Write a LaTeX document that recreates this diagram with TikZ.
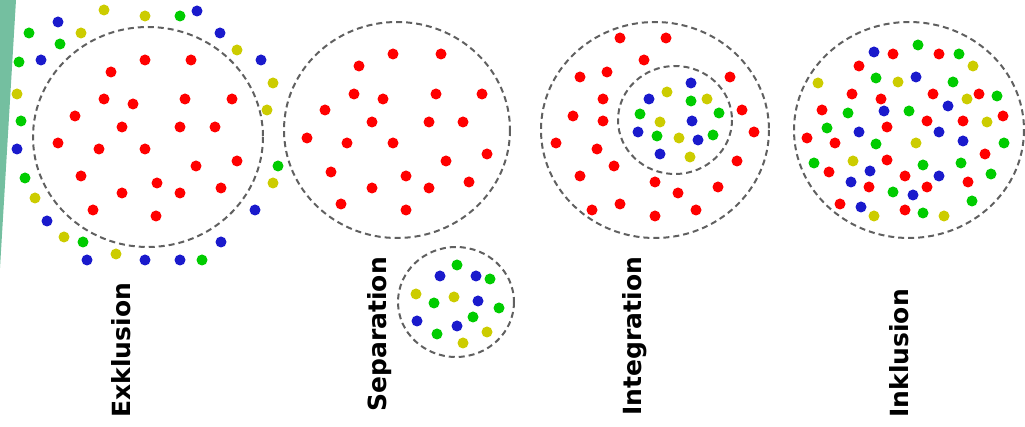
\documentclass[tikz,border=0pt]{standalone}
\usepackage{fontspec}
\setsansfont{DejaVu Sans}
\definecolor{dotred}{HTML}{FF0000}
\definecolor{dotgreen}{HTML}{00CC00}
\definecolor{dotblue}{HTML}{1A1ACC}
\definecolor{dotyellow}{HTML}{CCCC00}
\definecolor{ringgray}{HTML}{606060}
\definecolor{bandteal}{HTML}{74BFA0}

\begin{document}
\begin{tikzpicture}[x=0.5pt,y=-0.5pt,
 ring/.style={draw=ringgray,line width=1pt,dash pattern=on 3pt off 2pt},
 lbl/.style={font=\sffamily\bfseries\fontsize{12.5}{15}\selectfont,rotate=90,anchor=base west,inner sep=0pt}]
\useasboundingbox (0,0) rectangle (1025,427);
\fill[bandteal] (0,0) -- (16,0) -- (0,268) -- cycle;
% Exklusion
\draw[ring] (148,137) ellipse [x radius=115,y radius=110];
\foreach \p in {(145,60),(191,60),(111,72),(104,99),(133,104),(185,99),(232,99),(75,116),(122,127),(180,127),(215,127),(58,143),(99,149),(145,149),(237,161),(196,166),(81,176),(157,183),(221,188),(122,193),(180,193),(93,210),(156,216)}
  \fill[dotred] \p circle [radius=5.5];
\foreach \p in {(104,10),(145,16),(81,33),(237,50),(273,83),(17,94),(267,110),(273,183),(35,198),(64,237),(116,254)}
  \fill[dotyellow] \p circle [radius=5.5];
\foreach \p in {(180,16),(29,33),(60,44),(19,62),(21,121),(278,166),(25,178),(83,242),(202,260)}
  \fill[dotgreen] \p circle [radius=5.5];
\foreach \p in {(197,11),(58,22),(220,33),(41,60),(261,60),(17,149),(255,210),(47,221),(221,242),(87,260),(145,260),(180,260)}
  \fill[dotblue] \p circle [radius=5.5];
% Separation
\draw[ring] (397,130) ellipse [x radius=113,y radius=108];
\foreach \p in {(393,54),(441,54),(359,66),(354,94),(383,99),(436,94),(482,94),(325,110),(372,122),(429,122),(463,122),(307,138),(347,143),(393,143),(487,154),(446,161),(331,172),(406,176),(469,182),(372,188),(429,188),(341,204),(406,210)}
  \fill[dotred] \p circle [radius=5.5];
\draw[ring] (456,302) ellipse [x radius=58,y radius=55];
\foreach \p in {(457,265),(490,279),(434,303),(499,308),(473,317),(437,334)}
  \fill[dotgreen] \p circle [radius=5.5];
\foreach \p in {(440,276),(476,276),(478,301),(417,321),(457,326)}
  \fill[dotblue] \p circle [radius=5.5];
\foreach \p in {(416,294),(454,297),(487,332),(463,343)}
  \fill[dotyellow] \p circle [radius=5.5];
% Integration
\draw[ring] (655,130) ellipse [x radius=114,y radius=108];
\draw[ring] (675,120) ellipse [x radius=57,y radius=54];
\foreach \p in {(620,38),(666,38),(644,60),(580,77),(607,72),(730,77),(603,99),(742,110),(573,116),(603,121),(754,132),(556,143),(597,149),(737,161),(614,166),(580,176),(655,182),(718,187),(678,193),(620,204),(592,210),(696,210),(655,216)}
  \fill[dotred] \p circle [radius=5.5];
\foreach \p in {(691,83),(649,99),(692,121),(638,132),(698,140),(660,154)}
  \fill[dotblue] \p circle [radius=5.5];
\foreach \p in {(667,92),(707,99),(660,122),(679,138),(690,157)}
  \fill[dotyellow] \p circle [radius=5.5];
\foreach \p in {(691,101),(640,114),(719,113),(657,136),(713,135)}
  \fill[dotgreen] \p circle [radius=5.5];
% Inklusion
\draw[ring] (909,130) ellipse [x radius=115,y radius=108];
\foreach \p in {(893,54),(939,54),(859,66),(852,94),(933,94),(979,94),(881,99),(822,110),(927,121),(963,121),(1003,116),(887,127),(807,138),(835,143),(985,154),(887,160),(829,172),(905,176),(869,187),(927,187),(968,182),(840,204),(905,210)}
  \fill[dotred] \p circle [radius=5.5];
\foreach \p in {(918,45),(959,54),(876,78),(953,82),(997,96),(848,113),(909,111),(827,128),(876,144),(1004,143),(814,163),(923,165),(961,163),(991,174),(893,192),(972,201),(923,213)}
  \fill[dotgreen] \p circle [radius=5.5];
\foreach \p in {(874,52),(916,77),(948,106),(884,111),(859,132),(939,132),(963,141),(870,171),(939,176),(851,182),(913,195),(861,207)}
  \fill[dotblue] \p circle [radius=5.5];
\foreach \p in {(973,66),(898,82),(818,83),(967,99),(987,122),(916,143),(853,161),(874,216),(944,216)}
  \fill[dotyellow] \p circle [radius=5.5];
% labels
\node[lbl] (exkl) at (130,418) {Exklusion};
\node[lbl] (sepa) at (386,412) {Separation};
\node[lbl] (integ) at (641,416) {Integration};
\node[lbl] (inkl) at (908,418) {Inklusion};
\end{tikzpicture}
\end{document}
